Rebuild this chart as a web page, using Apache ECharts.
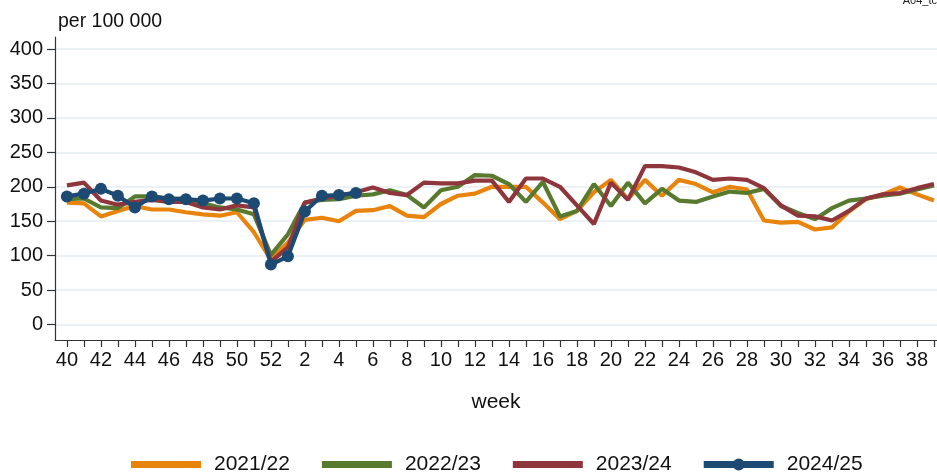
<!DOCTYPE html>
<html>
<head>
<meta charset="utf-8">
<script src="https://cdn.jsdelivr.net/npm/echarts@6/dist/echarts.min.js"></script>
<style>
  html, body { margin: 0; padding: 0; background: #fff; }
  #chart { width: 937px; height: 474px; }
</style>
</head>
<body>
<div id="chart"></div>
<script>
// Season weeks: 40..52 then 1..39
const weeks = [40,41,42,43,44,45,46,47,48,49,50,51,52,
  1,2,3,4,5,6,7,8,9,10,11,12,13,14,15,16,17,18,19,20,
  21,22,23,24,25,26,27,28,29,30,31,32,33,34,35,36,37,38,39];

const seasonNames = ['2021/22', '2022/23', '2023/24', '2024/25'];

const s2021 = [177,176,157,165,172,167,167,163,160,158,163,134,94,119,152,155,150,165,166,172,158,156,175,187,190,200,200,200,177,153,165,192,210,182,210,187,210,204,192,200,196,151,148,149,138,141,164,182,189,199,189,180];
const s2022 = [182,183,170,169,186,186,183,183,176,170,167,160,101,131,177,181,182,187,189,195,188,170,195,200,217,216,204,178,207,157,165,204,172,206,176,197,180,178,186,193,191,197,172,162,153,169,180,183,187,190,196,202];
const s2023 = [202,206,180,174,178,181,178,178,170,167,173,170,91,112,177,183,187,192,199,191,188,206,205,205,209,209,178,212,212,200,173,146,206,181,230,230,228,221,210,212,210,198,173,158,157,151,165,183,189,191,198,204];
const s2024 = [186,190,197,187,170,186,182,182,180,183,183,176,87,99,164,187,188,191];

const yTicks = [0,50,100,150,200,250,300,350,400];

const colors = ['#e8830c', '#577a2f', '#8f363d', '#1d4a73'];

const toPairs = arr => arr.map((v, i) => [i, v]);
const allIdx = weeks.map((w, i) => i);
const labelIdx = allIdx.filter(i => i % 2 === 0);

const font = 'Liberation Sans, Arial, Helvetica, sans-serif';

// legend keys: a thick bar, and a bar with a dot for the current season
const barIcon = 'path://M0,0 L70,0 L70,7 L0,7 Z';
const dotBarIcon = 'path://M0,2.5 L70,2.5 L70,9.5 L0,9.5 Z M29,6 A6,6 0 1,1 41,6 A6,6 0 1,1 29,6 Z';

function lineSeries(name, values, color, withDots) {
  return {
    name: name,
    type: 'line',
    data: toPairs(values),
    symbol: withDots ? 'circle' : 'none',
    symbolSize: 12,
    showSymbol: withDots,
    lineStyle: { color: color, width: 4.2 },
    itemStyle: { color: color },
    emphasis: { disabled: true },
    animation: false
  };
}

const chart = echarts.init(document.getElementById('chart'), null, { renderer: 'canvas' });
chart.setOption({
  backgroundColor: '#ffffff',
  animation: false,
  textStyle: { fontFamily: font },
  grid: { left: 55, right: 0, top: 37, bottom: 134 },
  xAxis: {
    type: 'value',
    min: -0.7,
    max: 51.18,
    name: 'week',
    nameLocation: 'middle',
    nameGap: 52,
    nameTextStyle: { fontSize: 21, color: '#111', fontFamily: font },
    axisLine: { show: true, onZero: false, lineStyle: { color: '#333', width: 1.2 } },
    axisTick: { show: true, length: 7, customValues: allIdx, lineStyle: { color: '#333', width: 1.2 } },
    axisLabel: {
      customValues: labelIdx,
      formatter: v => String(weeks[Math.round(v)]),
      fontSize: 20, color: '#111', margin: 10, fontFamily: font
    },
    splitLine: { show: false }
  },
  yAxis: {
    type: 'value',
    min: -22.5,
    max: 417.5,
    axisLine: { show: true, onZero: false, lineStyle: { color: '#333', width: 1.2 } },
    axisTick: { show: true, length: 8, customValues: yTicks, lineStyle: { color: '#333', width: 1.2 } },
    axisLabel: { customValues: yTicks, fontSize: 20, color: '#111', margin: 12, fontFamily: font },
    splitLine: { show: true, lineStyle: { color: '#e4ecf2', width: 1.5 } }
  },
  legend: {
    left: 131,
    top: 454,
    padding: 0,
    itemWidth: 70,
    itemHeight: 14,
    itemGap: 32,
    textStyle: { fontSize: 21, color: '#111', fontFamily: font, padding: [0, 0, 0, 8] },
    data: [
      { name: seasonNames[0], icon: barIcon },
      { name: seasonNames[1], icon: barIcon },
      { name: seasonNames[2], icon: barIcon },
      { name: seasonNames[3], icon: dotBarIcon }
    ]
  },
  graphic: [
    { type: 'text', left: 58, top: 12, style: { text: 'per 100 000', font: '19.5px ' + font, fill: '#111' } },
    { type: 'text', right: 0, top: -5, style: { text: 'A04_tc', font: '11px ' + font, fill: '#222' } }
  ],
  series: [
    lineSeries(seasonNames[0], s2021, colors[0], false),
    lineSeries(seasonNames[1], s2022, colors[1], false),
    lineSeries(seasonNames[2], s2023, colors[2], false),
    lineSeries(seasonNames[3], s2024, colors[3], true)
  ]
});
</script>
</body>
</html>
